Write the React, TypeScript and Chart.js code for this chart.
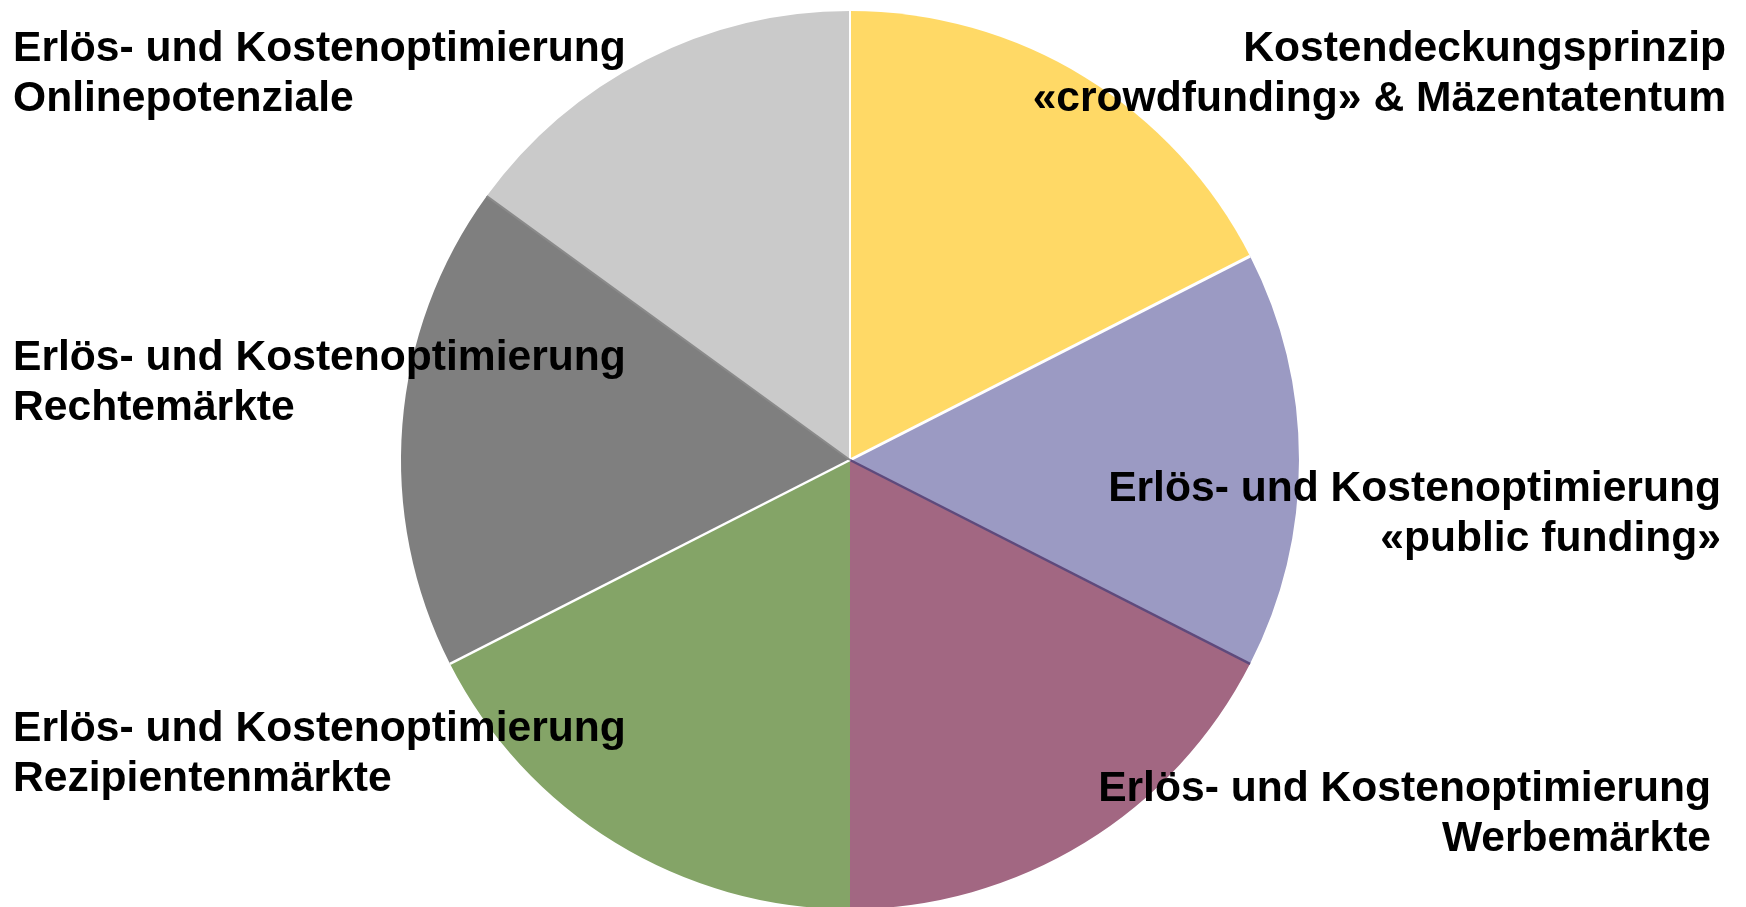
import React, { useEffect, useRef } from "react";
import { Chart, registerables } from "chart.js";

Chart.register(...registerables);

const categories = [
  "Kostendeckungsprinzip «crowdfunding» & Mäzentatentum",
  "Erlös- und Kostenoptimierung «public funding»",
  "Erlös- und Kostenoptimierung Werbemärkte",
  "Erlös- und Kostenoptimierung Rezipientenmärkte",
  "Erlös- und Kostenoptimierung Rechtemärkte",
  "Erlös- und Kostenoptimierung Onlinepotenziale",
];
const values = [7, 6, 7, 7, 7, 6];
const colors = ["#FFD966", "#9B9AC3", "#A26782", "#84A467", "#7F7F7F", "#CACACA"];
const separatorColors = ["#FFFFFF", "#FFFFFF", "#5E4A7C", "", "#FFFFFF", "#8A8A8A"];
const separatorWidths = [2, 3, 2.5, 0, 2.5, 2];

const labelLines = [
  ["Kostendeckungsprinzip", "«crowdfunding» & Mäzentatentum"],
  ["Erlös- und Kostenoptimierung", "«public funding»"],
  ["Erlös- und Kostenoptimierung", "Werbemärkte"],
  ["Erlös- und Kostenoptimierung", "Rezipientenmärkte"],
  ["Erlös- und Kostenoptimierung", "Rechtemärkte"],
  ["Erlös- und Kostenoptimierung", "Onlinepotenziale"],
];
// label placement: [x, first baseline, align]
const labelPlacement: [number, number, CanvasTextAlign][] = [
  [1726, 61, "right"],
  [1721, 501, "right"],
  [1711, 801, "right"],
  [13, 741, "left"],
  [13, 370, "left"],
  [13, 61, "left"],
];

const separatorPlugin = {
  id: "separators",
  afterDatasetsDraw(chart: any) {
    const meta = chart.getDatasetMeta(0);
    const ctx = chart.ctx;
    ctx.save();
    meta.data.forEach((arc: any, i: number) => {
      const c = separatorColors[i];
      if (!c) return;
      const { x, y, startAngle, outerRadius } = arc.getProps(["x", "y", "startAngle", "outerRadius"], true);
      ctx.beginPath();
      ctx.moveTo(x, y);
      ctx.lineTo(x + Math.cos(startAngle) * outerRadius, y + Math.sin(startAngle) * outerRadius);
      ctx.strokeStyle = c;
      ctx.lineWidth = separatorWidths[i];
      ctx.stroke();
    });
    ctx.restore();
  },
};

const labelPlugin = {
  id: "sideLabels",
  afterDraw(chart: any) {
    const ctx = chart.ctx;
    ctx.save();
    ctx.font = "bold 42.6px 'Liberation Sans', Arial, sans-serif";
    ctx.fillStyle = "#000000";
    ctx.textBaseline = "alphabetic";
    labelLines.forEach((lines, i) => {
      const [x, y, align] = labelPlacement[i];
      ctx.textAlign = align;
      lines.forEach((line, j) => {
        ctx.fillText(line, x, y + j * 50);
      });
    });
    ctx.restore();
  },
};

export default function App() {
  const ref = useRef<HTMLCanvasElement | null>(null);
  useEffect(() => {
    if (!ref.current) return;
    const chart = new Chart(ref.current, {
      type: "pie",
      data: {
        labels: categories,
        datasets: [
          {
            data: values,
            backgroundColor: colors,
            borderWidth: 0,
          },
        ],
      },
      options: {
        responsive: false,
        animation: false,
        layout: { padding: { top: 11, bottom: 3, left: 0, right: 46 } },
        plugins: {
          legend: { display: false },
          tooltip: { enabled: false },
        },
      },
      plugins: [separatorPlugin, labelPlugin],
    });
    return () => chart.destroy();
  }, []);
  return (
    <div
      style={{
        position: "fixed",
        left: 0,
        top: 0,
        width: 1746,
        height: 907,
        overflow: "hidden",
        background: "#ffffff",
      }}
    >
      <canvas ref={ref} width={1746} height={912} style={{ display: "block" }} />
    </div>
  );
}
